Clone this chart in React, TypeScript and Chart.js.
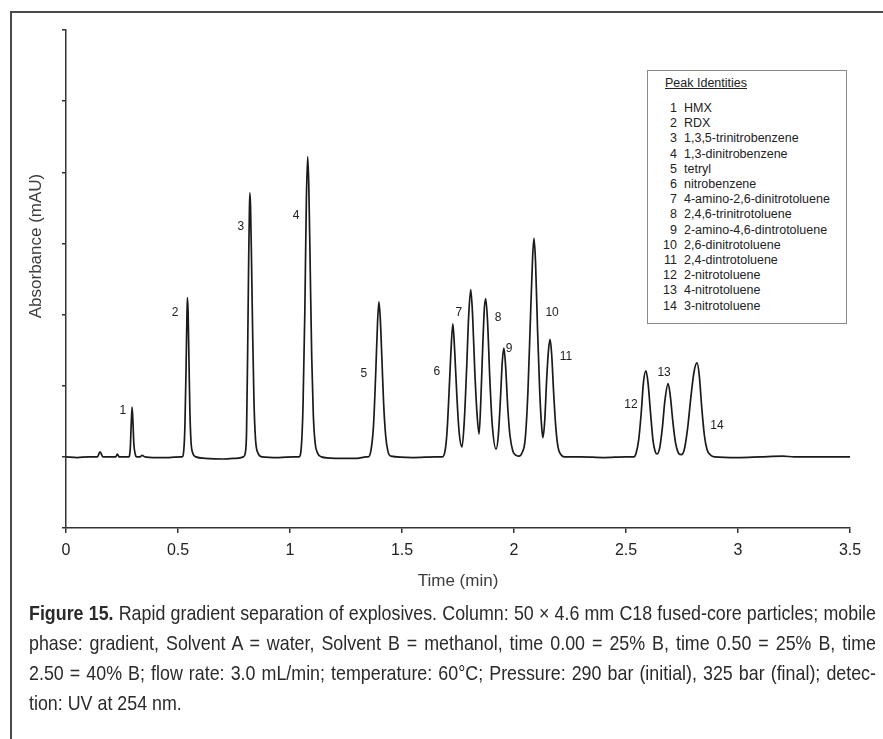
import React, { useEffect, useRef } from "react";
import { Chart, registerables } from "chart.js";

Chart.register(...registerables);

// Retention time (min) of each traced point of the chromatogram
const timeMin = [
  0.0, 0.05, 0.1, 0.14, 0.152, 0.165, 0.2, 0.222, 0.229, 0.237, 0.27,
  0.28, 0.287, 0.291, 0.295, 0.299, 0.303, 0.309, 0.316,
  0.33, 0.34, 0.352, 0.4, 0.46, 0.51,
  0.518, 0.526, 0.531, 0.536, 0.54, 0.542, 0.545, 0.549, 0.553, 0.558, 0.565, 0.58,
  0.62, 0.7, 0.76, 0.792,
  0.8, 0.806, 0.811, 0.816, 0.819, 0.821, 0.824, 0.828, 0.833, 0.839, 0.846, 0.856, 0.875,
  0.95, 1.02,
  1.04, 1.05, 1.058, 1.066, 1.073, 1.079, 1.084, 1.09, 1.097, 1.104, 1.112, 1.122, 1.14,
  1.2, 1.3, 1.34,
  1.35, 1.362, 1.373, 1.383, 1.391, 1.397, 1.403, 1.41, 1.418, 1.427, 1.437, 1.45,
  1.55, 1.65,
  1.68, 1.692, 1.701, 1.71, 1.718, 1.727, 1.735, 1.745, 1.755, 1.768,
  1.778, 1.788, 1.798, 1.807, 1.815, 1.825, 1.835, 1.844,
  1.852, 1.861, 1.868, 1.874, 1.882, 1.892, 1.903, 1.92,
  1.93, 1.94, 1.948, 1.955, 1.963, 1.972, 1.982, 1.995, 2.01, 2.022,
  2.035, 2.05, 2.062, 2.074, 2.083, 2.089, 2.096, 2.105, 2.115, 2.124, 2.129,
  2.137, 2.146, 2.154, 2.161, 2.168, 2.177, 2.187, 2.197, 2.21, 2.225,
  2.3, 2.4, 2.5, 2.535,
  2.545, 2.557, 2.568, 2.578, 2.589, 2.598, 2.61, 2.621, 2.63, 2.638,
  2.65, 2.662, 2.674, 2.688, 2.698, 2.709, 2.721, 2.733, 2.746,
  2.76, 2.775, 2.79, 2.804, 2.817, 2.827, 2.838, 2.85, 2.862, 2.876, 2.895,
  3.0, 3.1, 3.2, 3.25, 3.35, 3.5,
];

// Absorbance (relative, baseline = 0) at each traced point
const absorbance = [
  0.0, -0.01, 0.0, 0.0, 0.07, 0.0, 0.0, 0.0, 0.04, 0.0, 0.0,
  0.0, 0.12, 0.45, 0.7, 0.48, 0.18, 0.04, 0.0,
  0.0, 0.02, 0.0, -0.01, -0.01, 0.0,
  0.0, 0.1, 0.45, 1.25, 2.0, 2.24, 2.05, 1.35, 0.65, 0.22, 0.06, 0.0,
  -0.02, -0.03, -0.02, 0.0,
  0.05, 0.35, 1.5, 2.9, 3.5, 3.71, 3.5, 2.8, 1.8, 0.8, 0.25, 0.06, 0.0,
  -0.01, 0.0,
  0.0, 0.12, 0.7, 2.0, 3.6, 4.22, 3.8, 2.7, 1.4, 0.6, 0.2, 0.06, 0.0,
  -0.02, -0.02, 0.0,
  0.0, 0.1, 0.45, 1.2, 1.9, 2.18, 1.95, 1.4, 0.75, 0.3, 0.08, 0.01,
  -0.01, 0.0,
  0.0, 0.08, 0.35, 0.9, 1.45, 1.87, 1.5, 0.85, 0.35, 0.14,
  0.5, 1.2, 2.0, 2.35, 2.0, 1.2, 0.6, 0.32,
  0.8, 1.6, 2.1, 2.22, 1.9, 1.1, 0.45, 0.11,
  0.3, 0.85, 1.35, 1.53, 1.25, 0.7, 0.3, 0.08, 0.02, 0.01,
  0.05, 0.25, 0.9, 2.0, 2.8, 3.07, 2.75, 1.8, 0.9, 0.4, 0.27,
  0.5, 1.1, 1.5, 1.65, 1.45, 0.9, 0.4, 0.13, 0.03, 0.0,
  0.0, -0.01, 0.0, 0.0,
  0.05, 0.25, 0.62, 1.05, 1.21, 1.05, 0.6, 0.22, 0.08, 0.04,
  0.12, 0.4, 0.8, 1.03, 0.85, 0.5, 0.2, 0.06, 0.03,
  0.1, 0.4, 0.85, 1.2, 1.32, 1.15, 0.7, 0.3, 0.1, 0.03, 0.0,
  -0.01, 0.0, 0.01, 0.0, 0.0, 0.0,
];

// Peak number labels and where they sit (time, absorbance)
const peakNumbers = ["1", "2", "3", "4", "5", "6", "7", "8", "9", "10", "11", "12", "13", "14"];
const labelTime = [0.254, 0.487, 0.781, 1.027, 1.33, 1.656, 1.754, 1.929, 1.978, 2.17, 2.232, 2.522, 2.67, 2.906];
const labelAbs = [0.647, 2.024, 3.233, 3.388, 1.167, 1.195, 2.024, 1.954, 1.518, 2.024, 1.406, 0.731, 1.181, 0.436];

// Peak identities
const compounds = [
  "HMX",
  "RDX",
  "1,3,5-trinitrobenzene",
  "1,3-dinitrobenzene",
  "tetryl",
  "nitrobenzene",
  "4-amino-2,6-dinitrotoluene",
  "2,4,6-trinitrotoluene",
  "2-amino-4,6-dintrotoluene",
  "2,6-dinitrotoluene",
  "2,4-dintrotoluene",
  "2-nitrotoluene",
  "4-nitrotoluene",
  "3-nitrotoluene",
];

// Axis ticks
const xTickValues = [0, 0.5, 1, 1.5, 2, 2.5, 3, 3.5];
const xTickLabels = ["0", "0.5", "1", "1.5", "2", "2.5", "3", "3.5"];
const yMin = -1;
const yMax = 6;

const captionLines = [
  "Rapid gradient separation of explosives. Column: 50 × 4.6 mm C18 fused-core particles; mobile",
  "phase: gradient, Solvent A = water, Solvent B = methanol, time 0.00 = 25% B, time 0.50 = 25% B, time",
  "2.50 = 40% B; flow rate: 3.0 mL/min; temperature: 60°C; Pressure: 290 bar (initial), 325 bar (final); detec-",
  "tion: UV at 254 nm.",
];

const SANS = '"Liberation Sans", Arial, Helvetica, sans-serif';
const CAPTION_SCALE = 0.85;

const annotatePlugin = {
  id: "annotate",
  afterDraw(chart: any) {
    const { ctx } = chart;
    const xs = chart.scales.x;
    const ys = chart.scales.y;
    ctx.save();
    ctx.fillStyle = "#222";
    ctx.font = `12px ${SANS}`;
    ctx.textAlign = "center";
    ctx.textBaseline = "middle";
    peakNumbers.forEach((n, i) => {
      ctx.fillText(n, xs.getPixelForValue(labelTime[i]), ys.getPixelForValue(labelAbs[i]));
    });
    ctx.translate(36, (ys.top + ys.bottom) / 2 - 33);
    ctx.rotate(-Math.PI / 2);
    ctx.fillStyle = "#3c3c3c";
    ctx.font = `17px ${SANS}`;
    ctx.fillText("Absorbance (mAU)", 0, 0);
    ctx.restore();
  },
};

function ChromatogramChart() {
  const ref = useRef<HTMLCanvasElement>(null);
  useEffect(() => {
    if (!ref.current) return;
    const points = timeMin.map((t, i) => ({ x: t, y: absorbance[i] }));
    const chart = new Chart(ref.current, {
      type: "line",
      data: {
        datasets: [
          {
            data: points,
            borderColor: "#1a1a1a",
            borderWidth: 1.7,
            pointRadius: 0,
            fill: false,
            cubicInterpolationMode: "monotone",
          },
        ],
      },
      options: {
        animation: false,
        responsive: false,
        maintainAspectRatio: false,
        events: [],
        layout: { padding: { left: 0, right: 33, top: 30, bottom: 0 } },
        plugins: { legend: { display: false }, tooltip: { enabled: false } },
        scales: {
          x: {
            type: "linear",
            min: 0,
            max: 3.5,
            afterBuildTicks: (s: any) => {
              s.ticks = xTickValues.map((v) => ({ value: v }));
            },
            ticks: {
              color: "#222",
              font: { family: SANS, size: 16 },
              padding: 8,
              maxRotation: 0,
              autoSkip: false,
              callback: (v: any) => {
                const i = xTickValues.indexOf(Number(v));
                return i >= 0 ? xTickLabels[i] : "";
              },
            },
            grid: { drawOnChartArea: false, drawTicks: true, tickLength: 5, color: "#333", lineWidth: 1.5 },
            border: { display: true, color: "#333", width: 1.5 },
            title: {
              display: true,
              text: "Time (min)",
              color: "#3c3c3c",
              font: { family: SANS, size: 17 },
              padding: { top: 2, bottom: 8 },
            },
            afterFit: (s: any) => {
              s.height = 72;
            },
          },
          y: {
            type: "linear",
            min: yMin,
            max: yMax,
            ticks: { display: false, stepSize: 1 },
            grid: { drawOnChartArea: false, drawTicks: true, tickLength: 4, color: "#333", lineWidth: 1.5 },
            border: { display: true, color: "#333", width: 1.5 },
            afterFit: (s: any) => {
              s.width = 66;
            },
          },
        },
      },
      plugins: [annotatePlugin],
    } as any);
    return () => chart.destroy();
  }, []);
  return <canvas ref={ref} width={883} height={600} style={{ position: "absolute", left: 0, top: 0, width: 883, height: 600 }} />;
}

export default function App() {
  return (
    <div style={{ position: "absolute", left: 0, top: 0, width: 883, height: 739, background: "#fff", overflow: "hidden" }}>
      <div
        style={{
          position: "absolute",
          left: 10,
          top: 11,
          right: 0,
          bottom: 0,
          borderLeft: "2px solid #4a4a4a",
          borderTop: "2px solid #4a4a4a",
        }}
      />
      <ChromatogramChart />
      <div
        style={{
          position: "absolute",
          left: 647,
          top: 70,
          width: 198,
          height: 252,
          border: "1px solid #8a8a8a",
          background: "#fff",
          fontFamily: SANS,
          fontSize: 12.5,
          color: "#222",
        }}
      >
        <div style={{ position: "absolute", left: 17, top: 4, lineHeight: "16px", textDecoration: "underline" }}>Peak Identities</div>
        {compounds.map((name, i) => (
          <div key={name} style={{ position: "absolute", left: 0, top: 30 + i * 15.2, lineHeight: "15px", whiteSpace: "nowrap", display: "flex" }}>
            <span style={{ display: "inline-block", width: 29, textAlign: "right" }}>{i + 1}</span>
            <span style={{ marginLeft: 7 }}>{name}</span>
          </div>
        ))}
      </div>
      <div
        style={{
          position: "absolute",
          left: 29,
          top: 598,
          width: 847 / CAPTION_SCALE,
          transform: `scaleX(${CAPTION_SCALE})`,
          transformOrigin: "0 0",
          fontFamily: SANS,
          fontSize: 21,
          lineHeight: "30px",
          color: "#2a2a2a",
        }}
      >
        {captionLines.map((line, i) => (
          <div key={i} style={{ textAlign: "left", textAlignLast: i < captionLines.length - 1 ? "justify" : "left" } as any}>
            {i === 0 ? (
              <>
                <b>Figure 15.</b> {line}
              </>
            ) : (
              line
            )}
          </div>
        ))}
      </div>
    </div>
  );
}
